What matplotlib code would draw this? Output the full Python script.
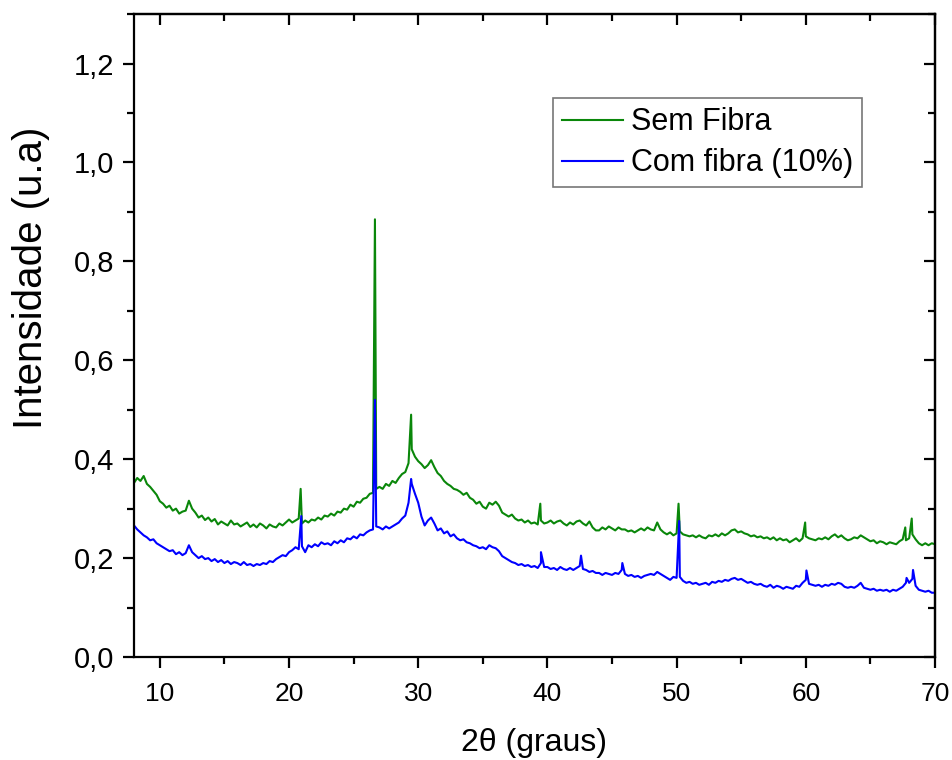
import numpy as np
import matplotlib.pyplot as plt
from matplotlib.ticker import MultipleLocator, FuncFormatter

plt.rcParams['font.family'] = ['Liberation Sans', 'DejaVu Sans']

# 2-theta grid of the background readings (degrees)
two_theta = np.arange(8.0, 70.001, 0.25)

# background intensity, no fibre
sem_fibra = [
    0.352, 0.362, 0.356, 0.366, 0.350, 0.344, 0.336, 0.328,
    0.315, 0.310, 0.302, 0.306, 0.296, 0.300, 0.290, 0.294,
    0.296, 0.316, 0.300, 0.292, 0.282, 0.286, 0.277, 0.282,
    0.274, 0.279, 0.268, 0.274, 0.270, 0.266, 0.276, 0.268,
    0.270, 0.264, 0.268, 0.272, 0.263, 0.268, 0.262, 0.270,
    0.266, 0.260, 0.268, 0.264, 0.262, 0.270, 0.266, 0.272,
    0.278, 0.272, 0.276, 0.280, 0.270, 0.276, 0.272, 0.278,
    0.276, 0.282, 0.278, 0.286, 0.284, 0.290, 0.286, 0.294,
    0.292, 0.300, 0.298, 0.308, 0.304, 0.314, 0.312, 0.320,
    0.322, 0.330, 0.332, 0.340, 0.344, 0.340, 0.350, 0.346,
    0.356, 0.352, 0.362, 0.370, 0.374, 0.392, 0.420, 0.405,
    0.396, 0.390, 0.382, 0.388, 0.398, 0.384, 0.372, 0.366,
    0.356, 0.350, 0.346, 0.340, 0.338, 0.334, 0.328, 0.332,
    0.322, 0.318, 0.310, 0.314, 0.304, 0.300, 0.312, 0.308,
    0.314, 0.306, 0.292, 0.288, 0.284, 0.288, 0.280, 0.276,
    0.278, 0.272, 0.276, 0.270, 0.272, 0.268, 0.276, 0.270,
    0.272, 0.276, 0.270, 0.274, 0.276, 0.270, 0.266, 0.272,
    0.268, 0.274, 0.276, 0.270, 0.266, 0.274, 0.262, 0.256,
    0.256, 0.262, 0.258, 0.264, 0.260, 0.256, 0.262, 0.258,
    0.258, 0.254, 0.256, 0.252, 0.256, 0.260, 0.256, 0.262,
    0.258, 0.256, 0.272, 0.258, 0.252, 0.248, 0.252, 0.246,
    0.250, 0.254, 0.248, 0.246, 0.244, 0.246, 0.242, 0.246,
    0.242, 0.240, 0.246, 0.244, 0.248, 0.244, 0.250, 0.246,
    0.250, 0.256, 0.258, 0.252, 0.254, 0.250, 0.248, 0.244,
    0.246, 0.242, 0.244, 0.240, 0.242, 0.238, 0.242, 0.236,
    0.240, 0.236, 0.238, 0.232, 0.236, 0.240, 0.234, 0.240,
    0.244, 0.240, 0.238, 0.236, 0.240, 0.238, 0.242, 0.238,
    0.244, 0.248, 0.242, 0.246, 0.240, 0.236, 0.238, 0.242,
    0.240, 0.246, 0.242, 0.238, 0.234, 0.236, 0.230, 0.234,
    0.232, 0.228, 0.232, 0.230, 0.228, 0.234, 0.238, 0.236,
    0.240, 0.248, 0.238, 0.230, 0.226, 0.230, 0.226, 0.230,
    0.228,
]

# background intensity, 10 % fibre
com_fibra = [
    0.266, 0.258, 0.252, 0.246, 0.242, 0.236, 0.238, 0.230,
    0.226, 0.222, 0.218, 0.214, 0.216, 0.208, 0.212, 0.206,
    0.210, 0.226, 0.212, 0.206, 0.200, 0.204, 0.198, 0.200,
    0.194, 0.198, 0.192, 0.196, 0.190, 0.194, 0.188, 0.192,
    0.190, 0.186, 0.192, 0.186, 0.188, 0.184, 0.188, 0.186,
    0.190, 0.188, 0.194, 0.192, 0.198, 0.202, 0.206, 0.204,
    0.212, 0.216, 0.222, 0.218, 0.224, 0.212, 0.226, 0.222,
    0.228, 0.224, 0.232, 0.228, 0.230, 0.226, 0.234, 0.230,
    0.236, 0.232, 0.240, 0.238, 0.244, 0.240, 0.248, 0.246,
    0.252, 0.256, 0.258, 0.264, 0.262, 0.258, 0.264, 0.260,
    0.264, 0.268, 0.272, 0.280, 0.286, 0.312, 0.350, 0.330,
    0.312, 0.284, 0.266, 0.276, 0.282, 0.270, 0.256, 0.260,
    0.250, 0.254, 0.244, 0.248, 0.240, 0.236, 0.238, 0.232,
    0.230, 0.226, 0.224, 0.220, 0.222, 0.218, 0.226, 0.222,
    0.220, 0.214, 0.204, 0.200, 0.196, 0.192, 0.190, 0.186,
    0.188, 0.184, 0.186, 0.182, 0.184, 0.180, 0.190, 0.182,
    0.182, 0.178, 0.180, 0.176, 0.182, 0.178, 0.176, 0.180,
    0.176, 0.180, 0.184, 0.178, 0.176, 0.172, 0.174, 0.170,
    0.170, 0.166, 0.170, 0.168, 0.166, 0.170, 0.168, 0.176,
    0.168, 0.164, 0.166, 0.162, 0.164, 0.160, 0.164, 0.166,
    0.168, 0.166, 0.172, 0.168, 0.164, 0.160, 0.156, 0.162,
    0.160, 0.162, 0.154, 0.150, 0.152, 0.148, 0.150, 0.146,
    0.148, 0.150, 0.146, 0.152, 0.150, 0.154, 0.152, 0.156,
    0.154, 0.158, 0.160, 0.156, 0.158, 0.154, 0.150, 0.152,
    0.148, 0.146, 0.148, 0.144, 0.142, 0.146, 0.140, 0.144,
    0.142, 0.138, 0.142, 0.140, 0.138, 0.144, 0.142, 0.150,
    0.156, 0.148, 0.146, 0.144, 0.146, 0.142, 0.146, 0.144,
    0.148, 0.146, 0.150, 0.148, 0.142, 0.140, 0.142, 0.140,
    0.144, 0.150, 0.140, 0.138, 0.136, 0.138, 0.134, 0.136,
    0.134, 0.136, 0.132, 0.136, 0.134, 0.138, 0.142, 0.150,
    0.150, 0.158, 0.144, 0.136, 0.134, 0.132, 0.134, 0.130,
    0.130,
]

# sharp diffraction peaks: position (degrees) and top intensity
sem_peaks_pos = [20.9, 26.65, 29.45, 39.45, 50.15, 59.95, 67.7, 68.2]
sem_peaks_int = [0.340, 0.885, 0.490, 0.310, 0.310, 0.272, 0.262, 0.280]
com_peaks_pos = [20.95, 26.65, 29.45, 39.5, 42.6, 45.8, 50.2, 60.05, 67.8, 68.3]
com_peaks_int = [0.285, 0.520, 0.360, 0.212, 0.205, 0.190, 0.275, 0.175, 0.160, 0.176]


def with_peaks(bg, pos, inten):
    x = np.concatenate([two_theta, pos])
    y = np.concatenate([bg, inten])
    order = np.argsort(x, kind='stable')
    return x[order], y[order]


x1, y1 = with_peaks(sem_fibra, sem_peaks_pos, sem_peaks_int)
x2, y2 = with_peaks(com_fibra, com_peaks_pos, com_peaks_int)

fig = plt.figure(figsize=(9.53, 7.6), dpi=100)
ax = fig.add_axes([0.1406, 0.1355, 0.8405, 0.846])

ax.plot(x1, y1, color='#0a870a', lw=1.5, label='Sem Fibra')
ax.plot(x2, y2, color='#0000ff', lw=1.5, label='Com fibra (10%)')

ax.set_xlim(8, 70)
ax.set_ylim(0, 1.3)
ax.xaxis.set_major_locator(MultipleLocator(10))
ax.xaxis.set_minor_locator(MultipleLocator(5))
ax.yaxis.set_major_locator(MultipleLocator(0.2))
ax.yaxis.set_minor_locator(MultipleLocator(0.1))
ax.yaxis.set_major_formatter(FuncFormatter(lambda v, p: f'{v:.1f}'.replace('.', ',')))

for s in ax.spines.values():
    s.set_linewidth(1.6)
ax.tick_params(which='major', direction='out', length=8, width=1.6, pad=6)
ax.tick_params(which='minor', direction='out', length=5, width=1.6)
ax.tick_params(axis='x', labelsize=19, pad=10)
ax.tick_params(axis='y', labelsize=21)

# mirrored ticks on top and right, pointing inward
top = ax.secondary_xaxis('top')
right = ax.secondary_yaxis('right')
top.xaxis.set_major_locator(MultipleLocator(10))
top.xaxis.set_minor_locator(MultipleLocator(5))
right.yaxis.set_major_locator(MultipleLocator(0.2))
right.yaxis.set_minor_locator(MultipleLocator(0.1))
for sec in (top, right):
    sec.tick_params(which='major', direction='in', length=8, width=1.6,
                    labeltop=False, labelright=False)
    sec.tick_params(which='minor', direction='in', length=5, width=1.6)
    for s in sec.spines.values():
        s.set_linewidth(1.6)

ax.set_xlabel('2θ (graus)', fontsize=23, labelpad=16)
ax.set_ylabel('Intensidade (u.a)', fontsize=29)
ax.yaxis.set_label_coords(-0.105, 0.59)

leg = ax.legend(loc='upper left', bbox_to_anchor=(0.523, 0.869), fontsize=22,
                frameon=True, fancybox=False, edgecolor='#555555',
                handlelength=2.0, handletextpad=0.25, labelspacing=0.35,
                borderpad=0.3, borderaxespad=0, handleheight=0.6)
leg.get_frame().set_linewidth(1.2)
for line in leg.get_lines():
    line.set_linewidth(1.5)

fig.savefig('out.png', dpi=100)
